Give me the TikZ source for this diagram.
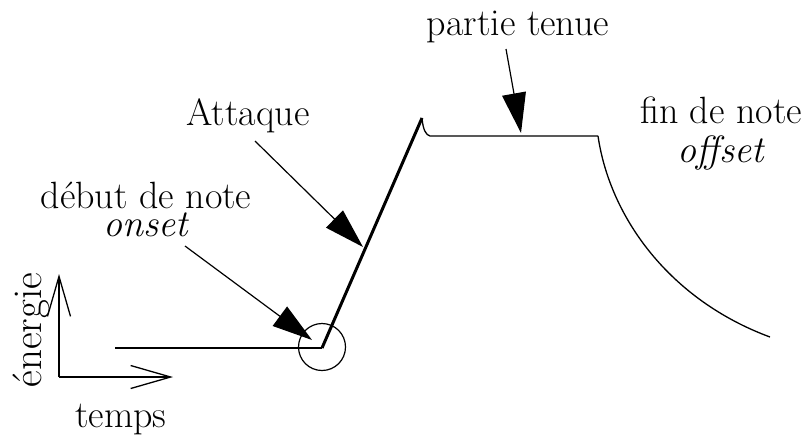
\documentclass[tikz,border=0pt]{standalone}
\usepackage{tikz}
\usetikzlibrary{arrows.meta, positioning, calc}
\tikzset{
    axis/.style={-{Straight Barb[length=20pt, width=11.5pt]}, line width=0.65pt},
    pointer/.style={-{Triangle[length=20pt, width=12pt]}, line width=0.6pt},
    signal/.style={line width=0.65pt},
    attack/.style={line width=1.5pt},
    txt/.style={font=\fontsize{19}{22}\selectfont, inner sep=0pt, anchor=base}
}

\begin{document}
\begin{tikzpicture}[x=0.5pt, y=-0.5pt]
    \useasboundingbox (0,0) rectangle (806,436);
    % Axes
    \coordinate (O) at (59,377);
    \coordinate (E) at (59,274);
    \coordinate (T) at (173,377);
    \draw[axis] (O) -- (E);
    \draw[axis] (O) -- (T);
    \node[txt, font=\fontsize{20.5}{22}\selectfont, rotate=90, anchor=center] (energie) at (31,330) {énergie};
    \node[txt] (temps) at (121,427) {temps};
    % Envelope
    \coordinate (start) at (115,348);
    \coordinate (on) at (322,348);
    \coordinate (peak) at (422,118);
    \coordinate (sus) at (430,136);
    \coordinate (off) at (598,136);
    \coordinate (tail) at (770,337);
    \draw[signal] (start) -- (on);
    \draw[attack] (on) -- (peak);
    \draw[signal] (peak) .. controls (423,130) and (426,135) .. (sus) -- (off);
    \draw[signal] (off) .. controls (610,218) and (670,300) .. (tail);
    \node[draw, circle, line width=0.6pt, minimum size=23.5pt, inner sep=0pt] (onring) at (322,347) {};
    % Labels
    \node[txt, anchor=north, align=center, font=\fontsize{19}{14}\selectfont] (debut) at (146,182) {début de note\\\itshape onset};
    \node[txt] (attaque) at (248,125) {Attaque};
    \node[txt] (tenue) at (518,35) {partie tenue};
    \node[txt, anchor=north, align=center, font=\fontsize{19}{19.5}\selectfont] (fin) at (721,96) {fin de note\\\itshape offset};
    % Pointers
    \coordinate (onsetTail) at (185,246);
    \coordinate (onsetTip) at (312,340);
    \coordinate (attTail) at (255,141);
    \coordinate (attTip) at (363,247);
    \coordinate (tenTail) at (506,49);
    \coordinate (tenTip) at (521,133);
    \draw[pointer] (onsetTail) -- (onsetTip);
    \draw[pointer] (attTail) -- (attTip);
    \draw[pointer] (tenTail) -- (tenTip);
\end{tikzpicture}
\end{document}
